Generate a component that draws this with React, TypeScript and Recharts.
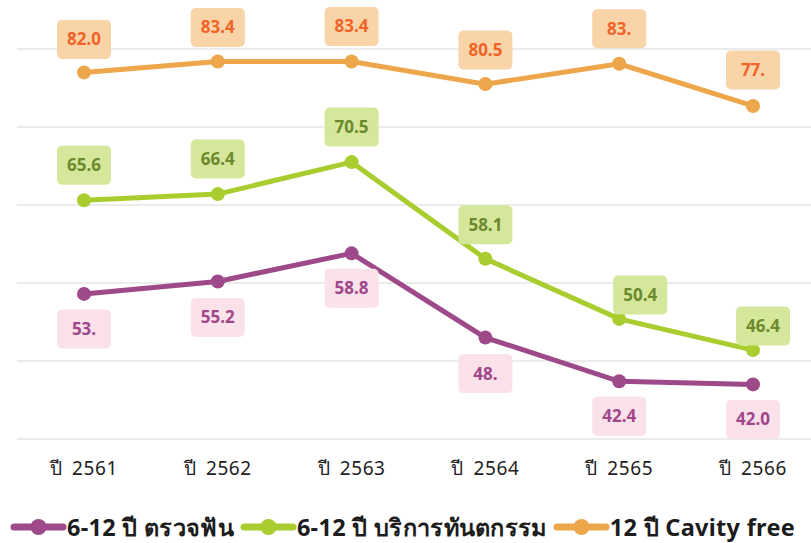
import { LineChart, Line, XAxis, YAxis, CartesianGrid, Legend, LabelList } from 'recharts'

const years = ['ปี 2561', 'ปี 2562', 'ปี 2563', 'ปี 2564', 'ปี 2565', 'ปี 2566']
const checkup = [53.6, 55.2, 58.8, 48.0, 42.4, 42.0]
const checkupLabels = ['53.', '55.2', '58.8', '48.', '42.4', '42.0']
const sealant = [65.6, 66.4, 70.5, 58.1, 50.4, 46.4]
const sealantLabels = ['65.6', '66.4', '70.5', '58.1', '50.4', '46.4']
const cavityFree = [82.0, 83.4, 83.4, 80.5, 83.1, 77.7]
const cavityFreeLabels = ['82.0', '83.4', '83.4', '80.5', '83.', '77.']
const yTicks = [35, 45, 55, 65, 75, 85]

const data = years.map((year, i) => ({
	year,
	checkup: checkup[i],
	sealant: sealant[i],
	cavityFree: cavityFree[i],
}))

const series = [
	{ key: 'checkup', name: '6-12 ปี ตรวจฟัน', color: '#9e4a8a', box: '#fbe1ea', text: '#a0478a', labels: checkupLabels },
	{ key: 'sealant', name: '6-12 ปี บริการทันตกรรม', color: '#a9cd2f', box: '#d4e79a', text: '#6c8a2c', labels: sealantLabels },
	{ key: 'cavityFree', name: '12 ปี Cavity free', color: '#eea64b', box: '#f9d4a8', text: '#f0642a', labels: cavityFreeLabels },
]

// label nudges where the boxes were moved to avoid the lines
const nudges: Record<string, Array<[number, number]>> = {
	checkup: [[0, 35], [0, 36], [0, 35], [0, 36], [0, 35], [0, 35]],
	sealant: [[0, -35], [0, -35], [0, -35], [0, -34], [21, -24], [10, -24]],
	cavityFree: [[0, -33], [0, -34], [0, -35], [0, -34], [0, -35], [0, -36]],
}

const FONT = '"Noto Sans", "DejaVu Sans", sans-serif'

const makeLabel = (s: typeof series[number]) => (props: any) => {
	const { x, y, index } = props
	const [dx, dy] = nudges[s.key][index]
	const cx = x + dx
	const cy = y + dy
	return (
		<g>
			<rect x={cx - 27} y={cy - 19.5} width={54} height={39} rx={5} fill={s.box} />
			<text x={cx} y={cy} dy={6} textAnchor="middle" fill={s.text} fontSize={17} fontWeight={700} fontFamily={FONT}>
				{s.labels[index]}
			</text>
		</g>
	)
}

const renderLegend = () => (
	<div style={{ display: 'flex', justifyContent: 'center', alignItems: 'center', height: 40, fontFamily: FONT }}>
		{series.map((s) => (
			<div key={s.key} style={{ display: 'flex', alignItems: 'center', marginRight: 6 }}>
				<svg width={57} height={20}>
					<line x1={4} y1={10} x2={53} y2={10} stroke={s.color} strokeWidth={7} strokeLinecap="round" />
					<circle cx={28.5} cy={10} r={8} fill={s.color} />
				</svg>
				<span style={{ fontSize: 23.5, fontWeight: 700, color: '#1c1c1c', letterSpacing: 0.3 }}>{s.name}</span>
			</div>
		))}
	</div>
)

export default function App() {
	return (
		<div style={{ position: 'absolute', left: 0, top: 0, background: '#fff' }}>
			<LineChart width={811} height={543} data={data} margin={{ top: 49, right: 0, left: 17, bottom: 14 }}>
				<CartesianGrid vertical={false} stroke="#ececec" strokeWidth={2} />
				<XAxis
					dataKey="year"
					axisLine={false}
					tickLine={false}
					height={50}
					padding={{ left: 67, right: 58 }}
					tick={{ fill: '#222', fontSize: 19, fontFamily: FONT, wordSpacing: 4, letterSpacing: 0.6 }}
					tickMargin={17}
				/>
				<YAxis hide domain={[35, 85]} ticks={yTicks} />
				<Legend verticalAlign="bottom" content={renderLegend} wrapperStyle={{ top: 507, left: 0, width: 811 }} />
				{series.map((s) => (
					<Line
						key={s.key}
						dataKey={s.key}
						name={s.name}
						stroke={s.color}
						strokeWidth={5}
						dot={{ r: 7, fill: s.color, stroke: 'none' }}
						activeDot={false}
						isAnimationActive={false}
					>
						<LabelList dataKey={s.key} content={makeLabel(s)} />
					</Line>
				))}
			</LineChart>
		</div>
	)
}
